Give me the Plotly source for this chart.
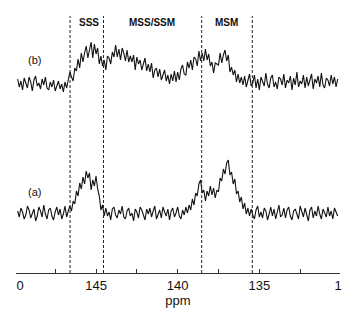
import numpy as np
import plotly.graph_objects as go

# ---- data (intensities, arbitrary units) ----
ppm_start = 149.8
ppm_step = 0.1

intensity_a = [
    2, -4, 5, 1, -6, -2, 7, 3, -5, 0, 4, -8, -3, 6, 2, -4, 8, -1, -6, 3, 5, -3, -7, 1, 6, -2, 4, -6, -1, 7, -4, 2,
    7, 2, 12, 9, 22, 17, 30, 24, 36, 29, 42, 35, 40, 23, 33, 27, 37, 24, 17, 3, 8, -3,
    5, -3, 1, -7, 4, 6, -2, -5, 3, -1, 7, -4, -6, 2, 5, -3, 0, -8, 4, 1, -5, 6, 3, -2, -7,
    4, -1, 5, -4, 2, 7, -6, -2, 3, -5, 6, 1, -3, 4, -7, 2, 5, -4, 0, 6, -3, -6, 3,
    -2, 6, 0, 8, 3, 14, 8, 20, 17, 29, 33, 20, 23, 12, 22, 17, 27, 18, 25, 15, 23, 21, 35,
    32, 44, 39, 50, 53, 38, 41, 29, 34, 19, 22, 11, 16, 4, 10, -1, 5, -3,
    4, -2, -6, 3, 7, -4, 1, -5, 5, 2, -7, -1, 6, -3, 4, -6, 0, 8, -4, -2, 5, -5, 3, 6, -3,
    -7, 2, 4, -1, -6, 7, 1, -4, 5, -2, -8, 3, 6, -5, 2, -3, 7, -1, -6, 4, 0, -4, 6, -3, 2,
    -6, 5, 1, -3,
]

intensity_b = [
    3, -5, 1, -8, 4, -2, -6, 5, 0, -9, 2, 6, -4, -1, -7, 3, -3, 5, -6,
    -8, 0, -5, 2, -9, -3, 1, -7, -2, -10, 0, -6, 3,
    10,
    5, 1, 14, 11, 23, 14, 29, 20, 29, 36, 24, 32, 40, 24, 38, 28, 34, 18, 26, 16,
    22, 12, 26, 24, 18, 30, 25, 37, 25, 33, 22, 34, 29, 21, 32, 20, 26, 20, 27, 12,
    25, 18, 22, 12, 19, 24, 11, 18, 10, 19, 4, 12, 14, 5, 13, 2, 7, 12, 1, 7,
    -2, 8, 1, 11, 0, 10, 2, 13, 17, 8, 7, 20, 14, 22, 12, 25, 23, 16, 31, 21,
    29, 21, 33, 22, 28, 16, 20, 9, 19, 18, 17, 29, 19, 27, 32, 21, 27, 10, 15, 7,
    12, 0, 8, -1, 5,
    -3, 6, -5, 2, 8, -4, -1, 7, -6, 3, -8, 5, 1, -4, 9, -2, -6, 4, 7, -5, 0, -7, 5, 3, -3,
    8, -6, 2, -1, 6, -8, 4, -3, 10, -5, 1, -2, 7, -6, 5, -4, 2, 8, -7, 3, -1, 6, -5, 9, -3,
    -6, 4, 2, -4, 7, -2, 5, -5, 3,
]

trace_labels = ["(a)", "(b)"]
region_labels = ["SSS", "MSS/SSM", "MSM"]
region_label_ppm = [145.45, 141.55, 137.0]
boundary_ppm = [146.59, 144.54, 138.53, 135.43]

tick_text = ["0", "145", "140", "135", "1"]
tick_vals = [149.65, 145, 140, 135, 130.18]
mark_tick_vals = [147.5, 145, 142.5, 140, 137.5, 135, 132.5]

OFFSET_B = 131
X_RANGE = [149.9, 130.06]

ppm_a = ppm_start - ppm_step * np.arange(len(intensity_a))
ppm_b = ppm_start - ppm_step * np.arange(len(intensity_b))

FONT = "Liberation Sans, Arial, Helvetica, sans-serif"

fig = go.Figure()
# trace (a) is drawn on the tick-mark axis (same range as the label axis)
fig.add_trace(go.Scatter(x=ppm_a, y=intensity_a, mode="lines", xaxis="x2",
                         line=dict(color="#111111", width=1.1), showlegend=False))
fig.add_trace(go.Scatter(x=ppm_b, y=np.array(intensity_b) + OFFSET_B, mode="lines",
                         line=dict(color="#111111", width=1.1), showlegend=False))

for b in boundary_ppm:
    fig.add_shape(type="line", xref="x", yref="paper", x0=b, x1=b, y0=0, y1=0.977,
                  line=dict(color="#222222", width=1, dash="3px,2px"))

for lbl, xp in zip(region_labels, region_label_ppm):
    fig.add_annotation(x=xp, y=0.951, xref="x", yref="paper", text="<b>" + lbl + "</b>",
                       showarrow=False,
                       font=dict(family=FONT, size=10, color="#111111"),
                       xanchor="center", yanchor="middle")

fig.add_annotation(x=148.74, y=21, text=trace_labels[0], showarrow=False,
                   font=dict(family=FONT, size=11, color="#111111"))
fig.add_annotation(x=148.74, y=153, text=trace_labels[1], showarrow=False,
                   font=dict(family=FONT, size=11, color="#111111"))

fig.update_layout(
    width=345, height=312,
    margin=dict(l=8, r=13, t=2, b=47),
    paper_bgcolor="white", plot_bgcolor="white",
    font=dict(family=FONT, color="#111111"),
    xaxis=dict(
        range=X_RANGE, showgrid=False, zeroline=False,
        showline=True, linecolor="#333333", linewidth=1,
        tickmode="array", tickvals=tick_vals, ticktext=tick_text, ticks="",
        ticklabelstandoff=0,
        tickfont=dict(size=13, color="#111111"),
        title=dict(text="ppm", font=dict(size=13, color="#111111"), standoff=0),
    ),
    xaxis2=dict(
        range=X_RANGE, overlaying="x", anchor="y", side="bottom",
        showgrid=False, zeroline=False, showline=False, showticklabels=False,
        tickmode="array", tickvals=mark_tick_vals, ticks="inside", ticklen=4,
        tickcolor="#333333", tickwidth=1,
    ),
    yaxis=dict(range=[-60, 203], visible=False, showgrid=False, zeroline=False),
)

fig.write_html("out.html")
